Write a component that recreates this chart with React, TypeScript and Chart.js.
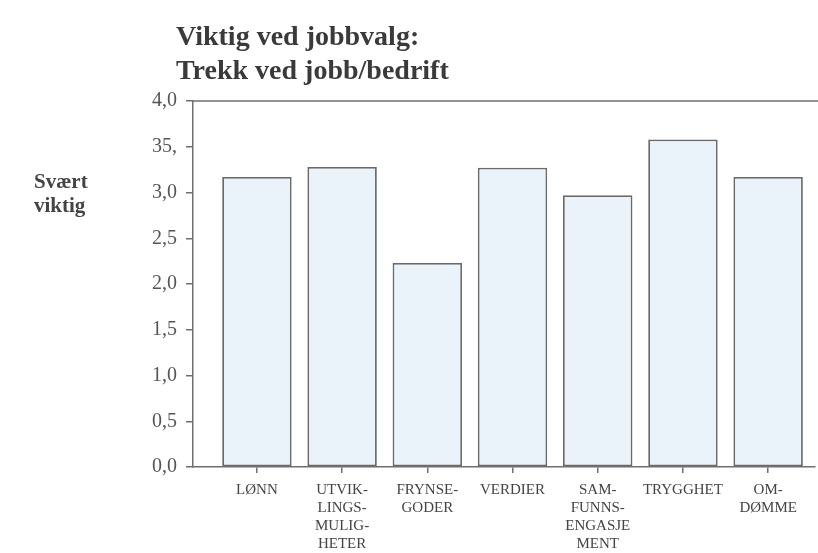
import React, { useEffect, useRef } from "react";
import { Chart, registerables } from "chart.js";

Chart.register(...registerables);

const categories: string[][] = [
  ["LØNN"],
  ["UTVIK-", "LINGS-", "MULIG-", "HETER"],
  ["FRYNSE-", "GODER"],
  ["VERDIER"],
  ["SAM-", "FUNNS-", "ENGASJE", "MENT"],
  ["TRYGGHET"],
  ["OM-", "DØMME"],
];
const values: number[] = [3.17, 3.28, 2.23, 3.27, 2.97, 3.58, 3.17];
const yTickValues: number[] = [0, 0.5, 1, 1.5, 2, 2.5, 3, 3.5, 4];
const yTickLabels: string[] = ["0,0", "0,5", "1,0", "1,5", "2,0", "2,5", "3,0", "35,", "4,0"];
const titleLines: string[] = ["Viktig ved jobbvalg:", "Trekk ved jobb/bedrift"];
const yTitleLines: string[] = ["Svært", "viktig"];

const SERIF = "'Liberation Serif', 'Times New Roman', serif";

const textPlugin = {
  id: "customText",
  afterDraw(chart: any) {
    const ctx = chart.ctx as CanvasRenderingContext2D;
    const area = chart.chartArea;
    ctx.save();
    // top frame line
    ctx.strokeStyle = "#6f6f6f";
    ctx.lineWidth = 1.5;
    ctx.beginPath();
    ctx.moveTo(area.left, area.top);
    ctx.lineTo(chart.width, area.top);
    ctx.stroke();
    // title
    ctx.fillStyle = "#3a3a3a";
    ctx.textAlign = "left";
    ctx.textBaseline = "alphabetic";
    ctx.font = `bold 28px ${SERIF}`;
    ctx.fillText(titleLines[0], 176, 45);
    ctx.fillText(titleLines[1], 176, 79);
    // y title
    ctx.font = `bold 21px ${SERIF}`;
    ctx.fillStyle = "#444";
    ctx.fillText(yTitleLines[0], 34, 188);
    ctx.fillText(yTitleLines[1], 34, 212);
    ctx.restore();
  },
};

export default function App() {
  const ref = useRef<HTMLCanvasElement | null>(null);
  useEffect(() => {
    if (!ref.current) return;
    const chart = new Chart(ref.current, {
      type: "bar",
      data: {
        datasets: [
          {
            data: categories.map((_, i) => ({ x: i, y: values[i] })),
            backgroundColor: "#eaf2fa",
            borderColor: "#6a6a6a",
            borderWidth: 1.8,
            borderSkipped: false,
            barPercentage: 0.815,
            categoryPercentage: 1,
          },
        ],
      },
      options: {
        animation: false,
        responsive: false,
        maintainAspectRatio: false,
        layout: { padding: { top: 101, right: 3, left: 0, bottom: 0 } },
        plugins: {
          legend: { display: false },
          tooltip: { enabled: false },
          title: { display: false },
        },
        scales: {
          x: {
            type: "linear",
            offset: false,
            min: -0.75,
            max: 6.55,
            afterBuildTicks: (scale: any) => {
              scale.ticks = categories.map((_, i) => ({ value: i }));
            },
            afterFit: (scale: any) => {
              scale.height = 86;
            },
            grid: {
              offset: false,
              drawOnChartArea: false,
              drawTicks: true,
              tickLength: 6,
              color: "#6f6f6f",
              lineWidth: 1.5,
            },
            border: { display: true, color: "#6f6f6f", width: 1.5 },
            ticks: {
              autoSkip: false,
              maxRotation: 0,
              padding: 8,
              color: "#444",
              font: { family: SERIF, size: 15, lineHeight: 1.2 },
              callback: (value: any) => categories[Math.round(Number(value))] ?? "",
            },
          },
          y: {
            min: 0,
            max: 4,
            afterBuildTicks: (scale: any) => {
              scale.ticks = yTickValues.map((v) => ({ value: v }));
            },
            afterFit: (scale: any) => {
              scale.width = 193;
            },
            grid: {
              drawOnChartArea: false,
              drawTicks: true,
              tickLength: 7,
              color: "#6f6f6f",
              lineWidth: 1.5,
            },
            border: { display: true, color: "#6f6f6f", width: 1.5 },
            ticks: {
              padding: 9,
              color: "#555",
              font: { family: SERIF, size: 20 },
              callback: (value: any) => {
                const idx = yTickValues.findIndex((v) => Math.abs(v - Number(value)) < 1e-6);
                return idx >= 0 ? yTickLabels[idx] : "";
              },
            },
          },
        },
      },
      plugins: [textPlugin],
    });
    return () => chart.destroy();
  }, []);
  return (
    <div style={{ position: "fixed", left: 0, top: 0, width: 818, height: 553, background: "#fff" }}>
      <canvas ref={ref} width={818} height={553} style={{ width: 818, height: 553 }} />
    </div>
  );
}
